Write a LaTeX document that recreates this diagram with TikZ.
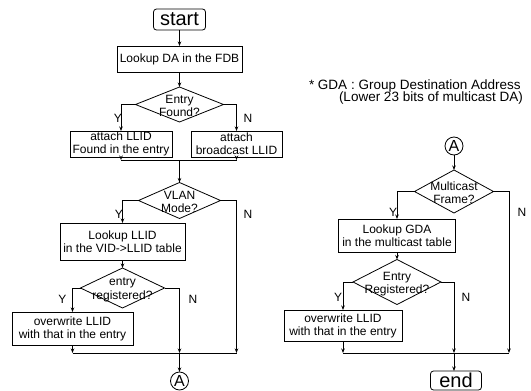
\documentclass[tikz,border=0pt]{standalone}
\usepackage{fontspec}
\setmainfont{Liberation Sans}
\usetikzlibrary{shapes.geometric,arrows.meta}
\begin{document}
\begin{tikzpicture}[x=1pt,y=-1pt,
  every node/.style={inner sep=0pt, outer sep=0pt},
  box/.style={draw, rectangle, align=center, line width=0.8pt, font=\fontsize{12}{13}\selectfont},
  term/.style={draw, rectangle, rounded corners=3pt, line width=0.8pt, font=\fontsize{20}{20}\selectfont},
  dia/.style={draw, diamond, line width=0.8pt},
  dtxt/.style={align=center, font=\fontsize{12}{13.5}\selectfont},
  yn/.style={font=\fontsize{12}{12}\selectfont},
  note/.style={anchor=base west, font=\fontsize{13.5}{13.5}\selectfont},
  circ/.style={draw, circle, line width=0.8pt, minimum size=18pt, font=\fontsize{16}{16}\selectfont},
  conn/.style={line width=0.8pt},
  arr/.style={conn, -{Stealth[length=4.5pt,width=3.5pt]}}
]
\useasboundingbox (0,0) rectangle (531,391);

% ---------- left flow ----------
\node[term, minimum width=52pt, minimum height=21pt] (start) at (179.5,19.5) {start};
\node[box, minimum width=125pt, minimum height=26pt] (fdb) at (179.5,59) {Lookup DA in the FDB};
\node[dia, minimum width=88pt, minimum height=35pt] (d1) at (179.5,104.5) {};
\node[dtxt] (t1) at (179.5,106) {Entry\\Found?};
\node[box, minimum width=102pt, minimum height=26pt] (b1) at (121,144) {attach LLID\\Found in the entry};
\node[box, minimum width=91pt, minimum height=26pt] (b2) at (236.5,144) {attach\\broadcast LLID};
\coordinate (j1l) at (121,160);
\coordinate (j1m) at (179.5,160);
\coordinate (j1r) at (236.5,160);

\node[dia, minimum width=82pt, minimum height=36pt] (d2) at (179.5,200.5) {};
\node[dtxt] (t2) at (179.5,202) {VLAN\\Mode?};
\node[box, minimum width=125pt, minimum height=37pt] (b3) at (122.5,241.5) {Lookup LLID\\in the VID->LLID table};
\node[dia, minimum width=84pt, minimum height=40pt] (d3) at (122.5,288) {};
\node[dtxt] (t3) at (122.5,290) {entry\\registered?};
\node[box, minimum width=121pt, minimum height=33pt] (b4) at (72.5,328.5) {overwrite LLID\\with that in the entry};
\coordinate (j2l) at (72.5,353);
\coordinate (j2m) at (179.5,353);
\coordinate (j2r) at (236.5,353);
\node[circ] (A1) at (179.5,381) {A};

\draw[arr] (start) -- (fdb);
\draw[arr] (fdb) -- (d1);
\draw[arr] (d1.west) -| (b1.north);
\draw[arr] (d1.east) -| (b2.north);
\draw[arr] (b1.south) -- (j1l);
\draw[arr] (b2.south) -- (j1r);
\draw[conn] (j1l) -- (j1r);
\draw[arr] (j1m) -- (d2.north);
\draw[arr] (d2.west) -| (b3.north);
\draw[arr] (d2.east) -| (j2r);
\draw[arr] (b3) -- (d3);
\draw[arr] (d3.west) -| (b4.north);
\draw[arr] (d3.east) -| (j2m);
\draw[arr] (b4.south) -- (j2l);
\draw[conn] (j2l) -- (j2r);
\draw[arr] (j2m) -- (A1);

\node[yn] (y1) at (118,118) {Y};
\node[yn] (n1) at (248,118) {N};
\node[yn] (y2) at (119,214) {Y};
\node[yn] (n2) at (248,214) {N};
\node[yn] (y3) at (62.5,299.5) {Y};
\node[yn] (n3) at (193,299.5) {N};

% ---------- note ----------
\node[note] (note1) at (309,89) {* GDA : Group Destination Address};
\node[note] (note2) at (339,101) {(Lower 23 bits of multicast DA)};

% ---------- right flow ----------
\node[circ] (A2) at (454,146) {A};
\node[dia, minimum width=79pt, minimum height=43pt] (d4) at (454,191.5) {};
\node[dtxt] (t4) at (454,192.5) {Multicast\\Frame?};
\node[box, minimum width=117pt, minimum height=33pt] (b5) at (397,235.5) {Lookup GDA\\in the multicast table};
\node[dia, minimum width=88pt, minimum height=45pt] (d5) at (397,282) {};
\node[dtxt] (t5) at (397,284) {Entry\\Registered?};
\node[box, minimum width=118pt, minimum height=31pt] (b6) at (343,325.5) {overwrite LLID\\with that in the entry};
\coordinate (j3l) at (343,353);
\coordinate (j3m) at (454,353);
\coordinate (j3r) at (509,353);
\node[term, minimum width=51pt, minimum height=19pt] (end) at (456,380.5) {end};

\draw[arr] (A2) -- (d4.north);
\draw[arr] (d4.west) -| (b5.north);
\draw[arr] (d4.east) -| (j3r);
\draw[arr] (b5.south) -- (d5.north);
\draw[arr] (d5.west) -| (b6.north);
\draw[arr] (d5.east) -| (j3m);
\draw[arr] (b6.south) -- (j3l);
\draw[conn] (j3l) -- (j3r);
\draw[arr] (j3m) -- (j3m |- end.north);

\node[yn] (y4) at (393,212) {Y};
\node[yn] (n4) at (522,212) {N};
\node[yn] (y5) at (338,297) {Y};
\node[yn] (n5) at (466,297) {N};
\end{tikzpicture}
\end{document}
